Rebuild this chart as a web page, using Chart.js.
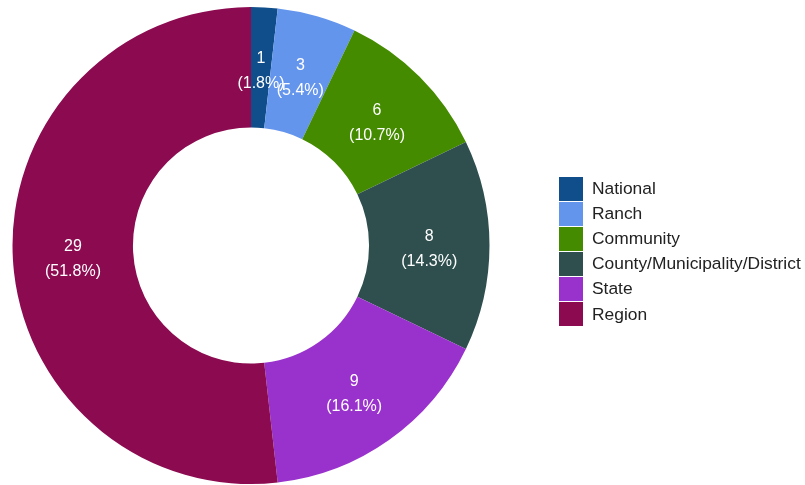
<!DOCTYPE html>
<html>
<head>
<meta charset="utf-8">
<script src="https://cdn.jsdelivr.net/npm/chart.js@4"></script>
<style>
  html, body { margin: 0; padding: 0; background: #fff; }
  #wrap { position: relative; width: 805px; height: 485px; }
  #legend { position: absolute; left: 559px; top: 176px; font-family: "Liberation Sans", Arial, Helvetica, sans-serif; font-size: 17.4px; color: #222; }
  .item { display: flex; align-items: center; height: 25.1px; }
  .box { width: 24px; height: 24px; margin-right: 9px; }
</style>
</head>
<body>
<div id="wrap">
  <canvas id="c" width="805" height="485"></canvas>
  <div id="legend"></div>
</div>
<script>
const categories = ["National", "Ranch", "Community", "County/Municipality/District", "State", "Region"];
const counts = [1, 3, 6, 8, 9, 29];
const colors = ["#104e8b", "#6495ed", "#458b00", "#2f4f4f", "#9932cc", "#8b0a50"];

const total = counts.reduce((a, b) => a + b, 0);

const labelPlugin = {
  id: 'sliceLabels',
  afterDatasetsDraw(chart) {
    const ctx = chart.ctx;
    const meta = chart.getDatasetMeta(0);
    ctx.save();
    ctx.fillStyle = '#ffffff';
    ctx.font = '16px "Liberation Sans", Arial, Helvetica, sans-serif';
    ctx.textAlign = 'center';
    ctx.textBaseline = 'middle';
    meta.data.forEach((arc, i) => {
      const p = arc.tooltipPosition();
      const v = counts[i];
      const pct = (v / total * 100).toFixed(1) + '%';
      ctx.fillText(String(v), p.x, p.y - 9);
      ctx.fillText('(' + pct + ')', p.x, p.y + 16);
    });
    ctx.restore();
  }
};

new Chart(document.getElementById('c'), {
  type: 'doughnut',
  data: {
    labels: categories,
    datasets: [{
      data: counts,
      backgroundColor: colors,
      borderWidth: 0
    }]
  },
  options: {
    responsive: false,
    animation: false,
    cutout: '49.5%',
    layout: { padding: { left: 12, right: 315, top: 7, bottom: 1 } },
    plugins: {
      legend: { display: false },
      tooltip: { enabled: false }
    }
  },
  plugins: [labelPlugin]
});

const legend = document.getElementById('legend');
categories.forEach((name, i) => {
  const item = document.createElement('div');
  item.className = 'item';
  const box = document.createElement('span');
  box.className = 'box';
  box.style.background = colors[i];
  const txt = document.createElement('span');
  txt.textContent = name;
  item.appendChild(box);
  item.appendChild(txt);
  legend.appendChild(item);
});
</script>
</body>
</html>
